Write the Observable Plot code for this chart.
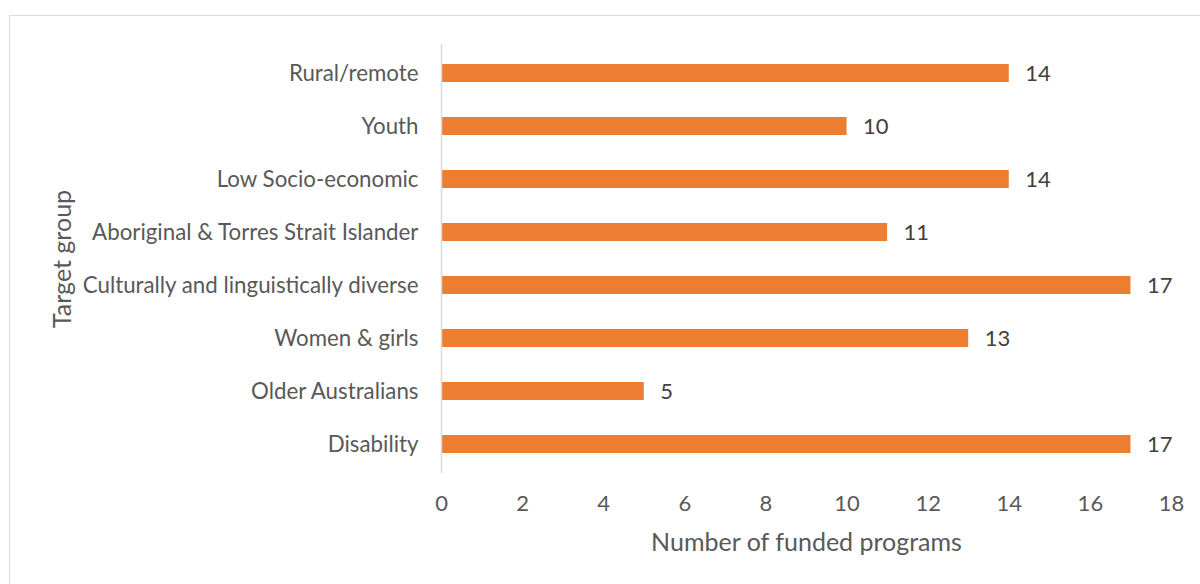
<!DOCTYPE html>
<html>
<head>
<meta charset="utf-8">
<script src="https://cdn.jsdelivr.net/npm/d3@7"></script>
<script src="https://cdn.jsdelivr.net/npm/@observablehq/plot@0.6"></script>
<style>
  html, body { margin: 0; padding: 0; background: #fff; }
  #wrap { position: relative; width: 1200px; height: 584px; overflow: hidden; }
  #frame { position: absolute; left: 9px; top: 15px; width: 1300px; height: 700px; border: 1px solid #d9d9d9; box-sizing: border-box; }
  #chart { position: absolute; left: 0; top: 0; }
</style>
</head>
<body>
<div id="wrap"><div id="frame"></div><div id="chart"></div></div>
<script>
const categories = ["Rural/remote", "Youth", "Low Socio-economic", "Aboriginal & Torres Strait Islander", "Culturally and linguistically diverse", "Women & girls", "Older Australians", "Disability"];
const values = [14, 10, 14, 11, 17, 13, 5, 17];
const xTicks = [0, 2, 4, 6, 8, 10, 12, 14, 16, 18];
const xLabel = "Number of funded programs";
const yLabel = "Target group";

const data = categories.map((c, i) => ({group: c, value: values[i]}));
const font = "Lato, 'Open Sans', sans-serif";

const chart = Plot.plot({
  width: 1200,
  height: 584,
  marginLeft: 441,
  marginRight: 29,
  marginTop: 44,
  marginBottom: 111,
  style: {fontFamily: font, background: "transparent"},
  x: {domain: [0, 18], ticks: xTicks},
  y: {domain: categories, paddingInner: 0.66, paddingOuter: 0.33},
  marks: [
    Plot.barX(data, {x: "value", y: "group", fill: "#ED7D31"}),
    Plot.ruleX([0], {stroke: "#d9d9d9", strokeWidth: 1.5}),
    Plot.axisX({ticks: xTicks, tickSize: 0, tickPadding: 22, fontSize: 22, fill: "#595959", label: null}),
    Plot.axisY({tickSize: 0, tickPadding: 23, fontSize: 22.3, fill: "#595959", label: null}),
    Plot.text(data, {x: "value", y: "group", text: d => String(d.value), dx: 16, textAnchor: "start", fontSize: 22, fill: "#404040"}),
    Plot.text([xLabel], {frameAnchor: "bottom", dy: 77, fontSize: 25, fill: "#595959"}),
    Plot.text([yLabel], {frameAnchor: "left", dx: -379, rotate: -90, textAnchor: "middle", fontSize: 25, fill: "#595959"})
  ]
});
document.getElementById("chart").appendChild(chart);
</script>
</body>
</html>
